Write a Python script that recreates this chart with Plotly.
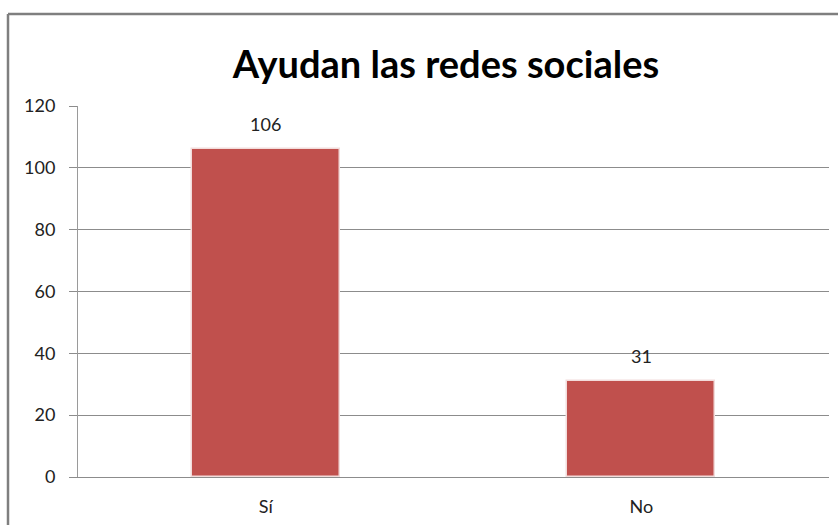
import plotly.graph_objects as go

# Survey answers and their counts
categories = ["Sí", "No"]
counts = [106, 31]
y_ticks = [0, 20, 40, 60, 80, 100, 120]

W, H = 838, 525
L, R, T, B = 78, 9, 106, 48
pw, ph = W - L - R, H - T - B

fig = go.Figure()
fig.add_trace(go.Bar(
    x=categories,
    y=counts,
    width=0.395,
    marker=dict(color="#C0504D", line=dict(color="#F2DCDB", width=1.5)),
    hoverinfo="x+y",
))

# value labels above each bar
for c, v in zip(categories, counts):
    fig.add_annotation(x=c, y=v, text=str(v), showarrow=False,
                       yanchor="bottom", yshift=12,
                       font=dict(family="Lato", size=18, color="#222222"))

# outer chart frame (left and top edges)
fx = (8 - L) / pw
fy = 1 + (T - 14) / ph
fig.add_shape(type="line", xref="paper", yref="paper", x0=fx, x1=fx, y0=-0.5, y1=fy,
              line=dict(color="#7F7F7F", width=2.5))
fig.add_shape(type="line", xref="paper", yref="paper", x0=fx, x1=1.5, y0=fy, y1=fy,
              line=dict(color="#7F7F7F", width=2.5))

fig.update_layout(
    width=W, height=H,
    margin=dict(l=L, r=R, t=T, b=B, autoexpand=False),
    paper_bgcolor="white",
    plot_bgcolor="white",
    showlegend=False,
    title=dict(text="<b>Ayudan las redes sociales</b>", x=446 / W, xanchor="center",
               y=1 - 65 / H, yanchor="middle",
               font=dict(family="Lato", size=38, color="#000000")),
    font=dict(family="Lato", size=18, color="#222222"),
    bargap=0,
)
fig.update_yaxes(
    range=[0, 120], tickvals=y_ticks,
    showgrid=True, gridcolor="#8C8C8C", gridwidth=1,
    showline=True, linecolor="#9A9A9A", linewidth=1,
    ticks="outside", ticklen=8, tickcolor="#8C8C8C",
    ticklabelstandoff=10,
    zeroline=False, automargin=False,
    tickfont=dict(family="Lato", size=18, color="#222222"),
)
fig.update_xaxes(
    showline=True, linecolor="#8C8C8C", linewidth=1,
    showgrid=False, ticks="",
    ticklabelstandoff=13, automargin=False,
    tickfont=dict(family="Lato", size=18, color="#222222"),
)

fig.write_html("out.html")
